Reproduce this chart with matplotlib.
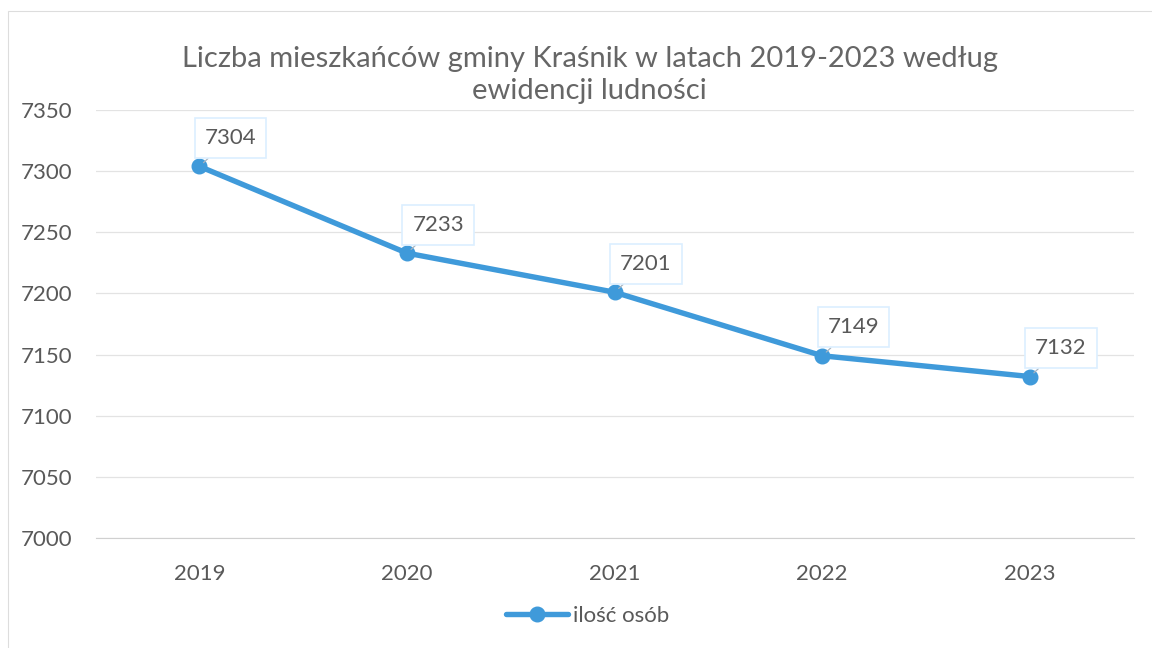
import matplotlib.pyplot as plt
from matplotlib.patches import Rectangle

plt.rcParams['font.family'] = ['Lato', 'DejaVu Sans']

years = ['2019', '2020', '2021', '2022', '2023']
people = [7304, 7233, 7201, 7149, 7132]
yticks = [7000, 7050, 7100, 7150, 7200, 7250, 7300, 7350]

txt = '#595959'
blue = '#3F9ADA'

fig = plt.figure(figsize=(11.52, 6.48), dpi=100)
ax = fig.add_axes([0.083, 0.17, 0.901, 0.66])

# faint page border from the scan
fig.patches.append(Rectangle((0.007, -0.1), 1.2, 1.083, transform=fig.transFigure,
                             fill=False, edgecolor='#dddddd', linewidth=0.8))

x = list(range(len(years)))
ax.plot(x, people, color=blue, linewidth=3.9, marker='o', markersize=10.5,
        solid_capstyle='round', label='ilość osób', zorder=3)

for xi, v in zip(x, people):
    ax.annotate(str(v), (xi, v), xytext=(22.5, 20.5), textcoords='offset points',
                ha='center', va='center', fontsize=16, color=txt,
                bbox=dict(boxstyle='square,pad=0.45', fc='white', ec='#dcefff', lw=1.2),
                arrowprops=dict(arrowstyle='-', color='#a8b4c0', lw=0.9,
                                shrinkA=0, shrinkB=4),
                zorder=4)

ax.set_xlim(-0.5, len(years) - 0.5)
ax.set_ylim(7000, 7350)
ax.set_yticks(yticks)
ax.set_xticks(x)
ax.set_xticklabels(years)
ax.tick_params(axis='both', length=0, labelsize=16, labelcolor=txt)
ax.tick_params(axis='x', pad=19)
ax.tick_params(axis='y', pad=17)
ax.grid(axis='y', color='#e3e3e3', linewidth=0.9)
ax.set_axisbelow(True)
for s in ['top', 'right', 'left']:
    ax.spines[s].set_visible(False)
ax.spines['bottom'].set_color('#d0d0d0')

fig.text(0.512, 0.84, 'Liczba mieszkańców gminy Kraśnik w latach 2019-2023 według\newidencji ludności',
         ha='center', va='bottom', fontsize=21, color='#666666', linespacing=1.25)

fig.legend(loc='lower center', bbox_to_anchor=(0.51, 0.003), frameon=False,
           fontsize=16, labelcolor=txt, handlelength=2.8, handletextpad=0.2)

fig.savefig('out.png', dpi=100)
